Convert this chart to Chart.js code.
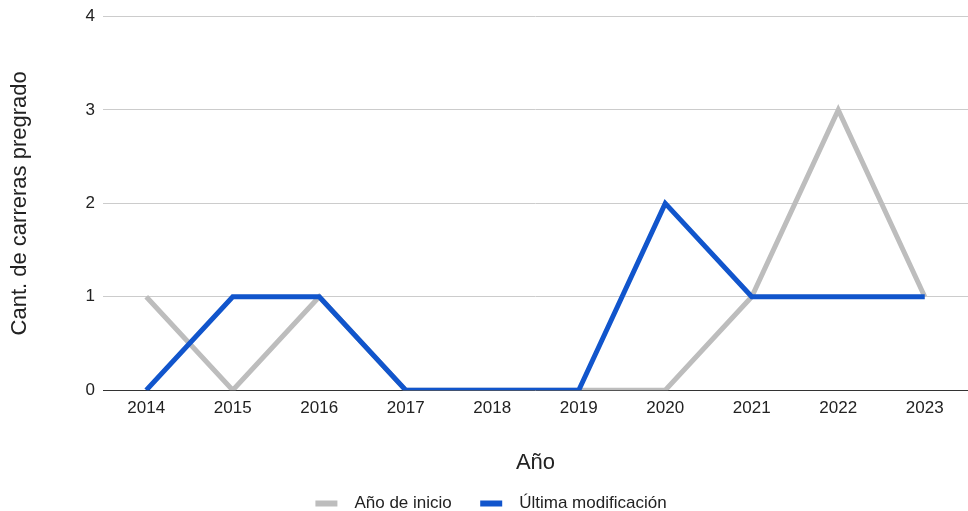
<!DOCTYPE html>
<html>
<head>
<meta charset="utf-8">
<script src="https://cdn.jsdelivr.net/npm/chart.js@4"></script>
<style>
  html, body { margin: 0; padding: 0; background: #fff; }
  #wrap { width: 968px; height: 511px; position: relative; }
</style>
</head>
<body>
<div id="wrap"><canvas id="chart"></canvas></div>
<script>
const years = ['2014','2015','2016','2017','2018','2019','2020','2021','2022','2023'];
const anioInicio = [1, 0, 1, 0, 0, 0, 0, 1, 3, 1];
const ultimaModificacion = [0, 1, 1, 0, 0, 0, 2, 1, 1, 1];
const yTicks = [0, 1, 2, 3, 4];

const FONT = 'Arial, "Liberation Sans", sans-serif';

const ctx = document.getElementById('chart').getContext('2d');
new Chart(ctx, {
  type: 'line',
  data: {
    labels: years,
    datasets: [
      { label: 'Año de inicio', data: anioInicio, borderColor: '#bdbdbd', backgroundColor: '#bdbdbd',
        borderWidth: 5, pointRadius: 0, tension: 0, order: 1 },
      { label: 'Última modificación', data: ultimaModificacion, borderColor: '#1155cc', backgroundColor: '#1155cc',
        borderWidth: 5, pointRadius: 0, tension: 0, order: 0 }
    ]
  },
  options: {
    responsive: true,
    maintainAspectRatio: false,
    animation: false,
    // left padding only nudges the legend to the right; y axis width compensates
    layout: { padding: { top: 0, right: 0, left: 14, bottom: 0 } },
    plugins: {
      tooltip: { enabled: false },
      legend: {
        position: 'bottom',
        maxHeight: 18,
        labels: {
          font: { family: FONT, size: 17 },
          color: '#222',
          boxWidth: 22,
          boxHeight: 6,
          padding: 2,
          // extra spacing around legend text, like the original
          generateLabels: chart => {
            const items = Chart.defaults.plugins.legend.labels.generateLabels(chart);
            items.sort((a, b) => a.datasetIndex - b.datasetIndex);
            return items.map((it, i) => ({
              ...it,
              lineWidth: 0,
              text: '\u2002' + it.text + (i < items.length - 1 ? '\u2003  ' : '')
            }));
          }
        }
      }
    },
    scales: {
      x: {
        offset: true,
        grid: { display: false, drawTicks: false },
        border: { display: false },
        ticks: { font: { family: FONT, size: 17 }, color: '#222', padding: 8, maxRotation: 0 },
        title: { display: true, text: 'Año', font: { family: FONT, size: 22 }, color: '#222',
                 padding: { top: 23, bottom: 17 } }
      },
      y: {
        min: 0, max: 4,
        afterBuildTicks: s => { s.ticks = yTicks.map(v => ({ value: v })); },
        afterFit: s => { s.width = 89; },
        grid: { drawTicks: false, color: c => c.tick && c.tick.value === 0 ? '#333' : '#ccc', lineWidth: 1 },
        border: { display: false },
        ticks: { font: { family: FONT, size: 17, lineHeight: 1 }, color: '#222', padding: 8 },
        title: { display: true, text: 'Cant. de carreras pregrado', font: { family: FONT, size: 22 }, color: '#222',
                 padding: { top: -7, bottom: 10 } }
      }
    }
  }
});
</script>
</body>
</html>
